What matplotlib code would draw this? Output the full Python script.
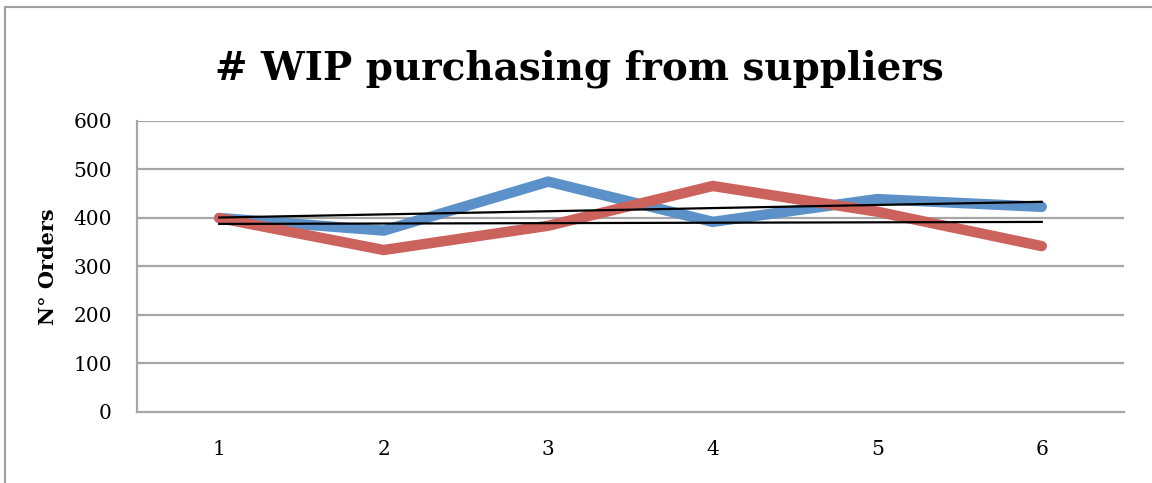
import numpy as np
import matplotlib.pyplot as plt
from matplotlib.lines import Line2D

weeks = [1, 2, 3, 4, 5, 6]
wip_blue = [400, 374, 475, 392, 439, 423]
wip_red = [400, 334, 384, 466, 413, 342]
yticks = [0, 100, 200, 300, 400, 500, 600]

plt.rcParams['font.family'] = ['DejaVu Serif']

fig = plt.figure(figsize=(11.52, 4.83), dpi=100)
ax = fig.add_axes([0.1189, 0.147, 0.8568, 0.6025])

grid_col = '#a6a6a6'
for y in yticks[1:]:
    ax.axhline(y, color=grid_col, lw=1.6, zorder=1)

x = np.array(weeks)
ax.plot(x, wip_blue, color='#5b91c8', lw=7.5, solid_capstyle='round', solid_joinstyle='miter', zorder=3)
ax.plot(x, wip_red, color='#cc625c', lw=7.5, solid_capstyle='round', solid_joinstyle='miter', zorder=3)

# linear trend for each series
for series in (wip_blue, wip_red):
    k, b = np.polyfit(x, series, 1)
    ax.plot(x, k * x + b, color='black', lw=1.6, zorder=4)

ax.set_xlim(0.5, 6.5)
ax.set_ylim(0, 600)
ax.set_xticks(weeks)
ax.set_yticks(yticks)
ax.tick_params(axis='x', length=0, pad=20, labelsize=14.5)
ax.tick_params(axis='y', length=0, pad=18, labelsize=14.5)
for s in ('top', 'right'):
    ax.spines[s].set_visible(False)
for s in ('left', 'bottom'):
    ax.spines[s].set_color(grid_col)
    ax.spines[s].set_linewidth(1.6)

ax.set_ylabel('N° Orders', fontsize=15, fontweight='bold', labelpad=11)
fig.text(0.503, 0.857, '# WIP purchasing from suppliers', ha='center', va='center',
         fontsize=28, fontweight='bold')

# chart frame
fig.add_artist(Line2D([0.0045, 1.0], [0.986, 0.986], color='#a0a0a0', lw=1.5))
fig.add_artist(Line2D([0.0045, 0.0045], [0.0, 0.986], color='#a0a0a0', lw=1.5))

fig.savefig('out.png', dpi=100)
